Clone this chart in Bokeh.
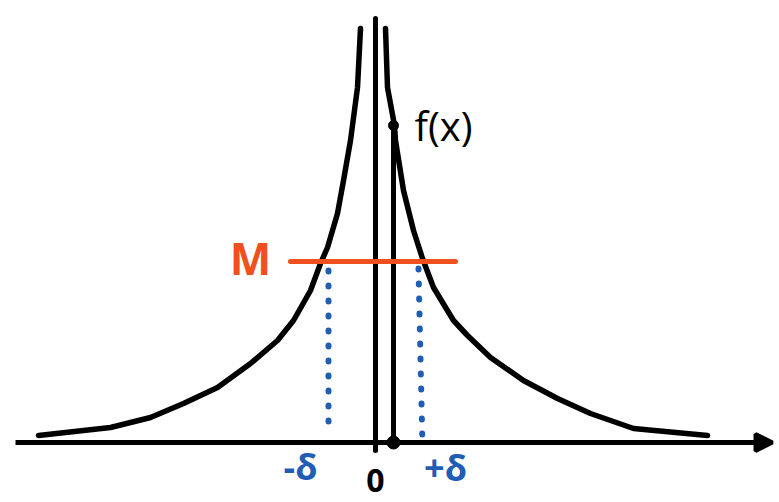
from bokeh.plotting import figure
from bokeh.models import Range1d, Arrow, NormalHead
from bokeh.core.properties import value
from bokeh.embed import file_html
from bokeh.resources import INLINE

# Curve (x to the right of origin, y above the x axis)
left_x = [-15, -18, -25, -32, -38, -48, -55, -65, -82, -98, -125, -158, -192, -225, -265, -337]
left_y = [414, 355, 302, 262, 229, 195, 179, 152, 122, 102, 79, 55, 39, 25, 15, 7]
right_x = [10, 12, 19, 20, 28, 38, 47, 58, 78, 92, 115, 148, 182, 215, 258, 332]
right_y = [414, 355, 317, 302, 252, 212, 184, 155, 122, 107, 85, 62, 44, 29, 14, 7]

M_level = 181
M_x = [-85, 80]
delta_left = [-47, -47]
delta_left_y = [172, 7]
delta_right = [43, 47]
delta_right_y = [174, -5]
x0 = 18
fx0 = 317
axis_x = [-360, 397]
yaxis_y = [-8, 424]

BLACK = "#000000"
ORANGE = "#F0501E"
BLUE = "#1F5EB4"

p = figure(width=779, height=502, output_backend="svg", toolbar_location=None,
           x_range=Range1d(-375, 404), y_range=Range1d(-60, 442),
           min_border=0, outline_line_color=None)
p.xaxis.visible = False
p.yaxis.visible = False
p.grid.visible = False
p.background_fill_color = "white"
p.border_fill_color = "white"

# x axis with arrow
p.add_layout(Arrow(end=NormalHead(size=17, fill_color=BLACK, line_color=BLACK, line_width=4),
                   x_start=axis_x[0], y_start=0, x_end=axis_x[1], y_end=0,
                   line_width=5, line_color=BLACK))
# vertical line at origin
p.line([0, 0], yaxis_y, line_width=5, line_color=BLACK, line_cap="round")

# curve branches
p.line(left_x, left_y, line_width=5.5, line_color=BLACK, line_cap="round", line_join="round")
p.line(right_x, right_y, line_width=5.5, line_color=BLACK, line_cap="round", line_join="round")

# vertical line from x0 to f(x0)
p.line([x0, x0], [0, fx0], line_width=5, line_color=BLACK, line_cap="round")
p.scatter([x0, x0], [fx0, 0], size=[10, 13], color=BLACK)

# M line
p.line(M_x, [M_level, M_level], line_width=5, line_color=ORANGE, line_cap="round")

# delta dotted lines
p.line(delta_left, delta_left_y, line_width=6, line_color=BLUE, line_dash="1 14", line_cap="round")
p.line(delta_right, delta_right_y, line_width=6, line_color=BLUE, line_dash="1 14", line_cap="round")

font = value("Open Sans")
p.text([-125], [185], text=["M"], text_color=ORANGE, text_font=font, text_font_size="44px",
       text_font_style="bold", text_align="center", text_baseline="middle")
p.text([68], [317], text=["f(x)"], text_color=BLACK, text_font=font, text_font_size="40px",
       text_align="center", text_baseline="middle")
p.text([-75], [-24], text=["-δ"], text_color=BLUE, text_font=font, text_font_size="36px",
       text_font_style="bold", text_align="center", text_baseline="middle")
p.text([70], [-25], text=["+δ"], text_color=BLUE, text_font=font, text_font_size="36px",
       text_font_style="bold", text_align="center", text_baseline="middle")
p.text([0], [-38], text=["0"], text_color=BLACK, text_font=font, text_font_size="32px",
       text_font_style="bold", text_align="center", text_baseline="middle")

open("out.html", "w").write(file_html(p, INLINE))
